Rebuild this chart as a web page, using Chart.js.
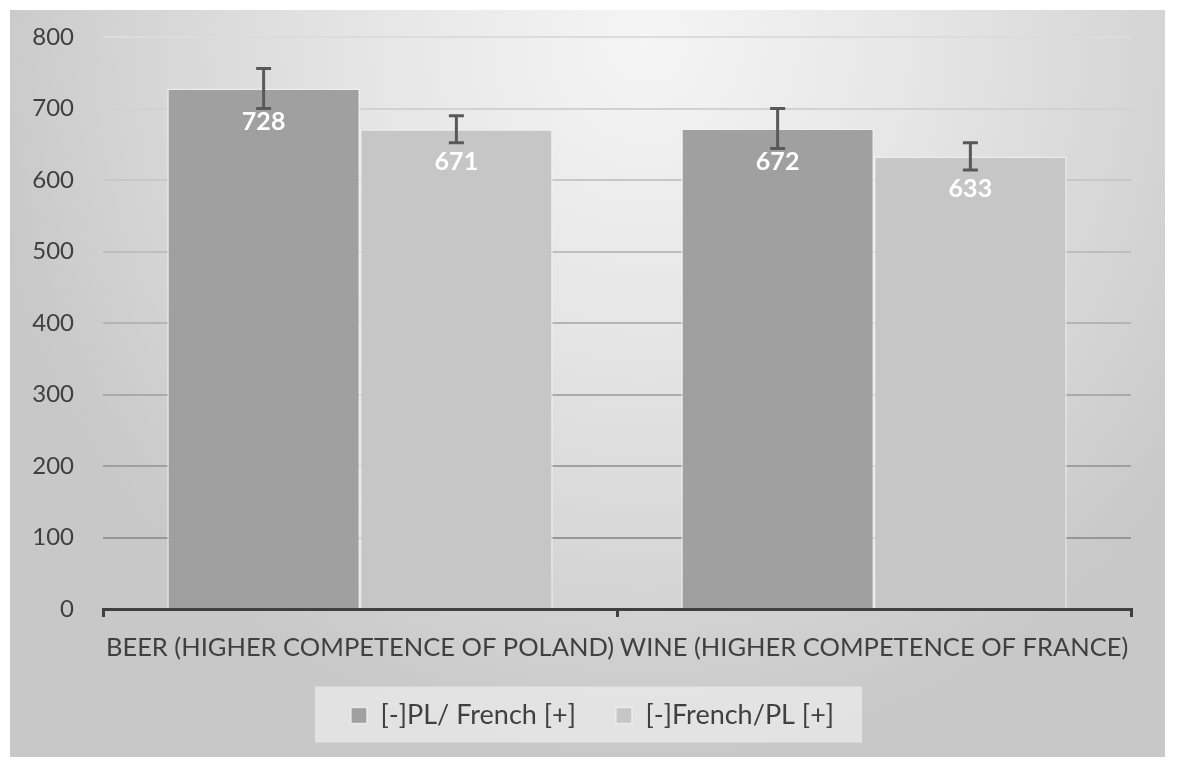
<!DOCTYPE html>
<html>
<head>
<meta charset="utf-8">
<script src="https://cdn.jsdelivr.net/npm/chart.js@4/dist/chart.umd.min.js"></script>
<style>
  html, body { margin: 0; padding: 0; background: #fff; }
  #panel {
    position: absolute; left: 10px; top: 10px; width: 1155px; height: 747px;
    background: radial-gradient(ellipse 58% 96% at 55% 4%, #f5f5f5 0%, #e6e6e6 40%, #d4d4d4 78%, #c8c8c8 100%);
  }
</style>
</head>
<body>
<div id="panel"><canvas id="chart"></canvas></div>
<script>
/* data */
const categories = ['BEER (HIGHER COMPETENCE OF POLAND)', 'WINE (HIGHER COMPETENCE OF FRANCE)'];
const seriesNames = ['[-]PL/ French [+]', '[-]French/PL [+]'];
const plFrench = [728, 672];
const frenchPl = [671, 633];
const plFrenchErr = [28, 28];
const frenchPlErr = [19, 19];
const yMax = 800;
const yStep = 100;

Chart.defaults.font.family = 'Lato, Calibri, sans-serif';
Chart.defaults.color = '#404040';

/* error bars + white value labels inside bars */
const barExtras = {
  id: 'barExtras',
  afterDatasetsDraw(chart) {
    const { ctx, scales: { y } } = chart;
    ctx.save();
    chart.data.datasets.forEach((ds, i) => {
      chart.getDatasetMeta(i).data.forEach((bar, j) => {
        const v = ds.data[j];
        const e = ds.errors[j];
        const top = y.getPixelForValue(v + e);
        const bot = y.getPixelForValue(v - e);
        ctx.strokeStyle = '#595959';
        ctx.lineWidth = 3;
        ctx.beginPath();
        ctx.moveTo(bar.x, top); ctx.lineTo(bar.x, bot);
        ctx.moveTo(bar.x - 7.5, top); ctx.lineTo(bar.x + 7.5, top);
        ctx.moveTo(bar.x - 7.5, bot); ctx.lineTo(bar.x + 7.5, bot);
        ctx.stroke();

        ctx.fillStyle = '#ffffff';
        ctx.font = 'bold 25px Lato';
        ctx.textAlign = 'center';
        ctx.textBaseline = 'middle';
        ctx.fillText(String(v), bar.x, bar.y + 33);
      });
    });
    ctx.restore();
  }
};

/* light panel behind the legend, nudged legend position */
const legendPanel = {
  id: 'legendPanel',
  afterLayout(chart) {
    chart.legend.left += 22;
    chart.legend.right += 22;
  },
  beforeDraw(chart) {
    const hb = chart.legend.legendHitBoxes;
    if (!hb || hb.length < 2) return;
    const ctx = chart.ctx;
    const cy = hb[0].top + hb[0].height / 2;
    const left = hb[0].left - 36;
    const right = hb[1].left + hb[1].width + 28;
    ctx.save();
    ctx.fillStyle = 'rgba(235,235,235,0.75)';
    ctx.fillRect(left, cy - 29, right - left, 56);
    ctx.restore();
  }
};

const ctx = document.getElementById('chart').getContext('2d');

new Chart(ctx, {
  type: 'bar',
  data: {
    labels: categories,
    datasets: [
      {
        label: seriesNames[0],
        data: plFrench,
        errors: plFrenchErr,
        backgroundColor: '#a0a0a0',
        borderColor: 'rgba(240,240,240,0.8)',
        borderWidth: 1.5
      },
      {
        label: seriesNames[1],
        data: frenchPl,
        errors: frenchPlErr,
        backgroundColor: '#c6c6c6',
        borderColor: 'rgba(240,240,240,0.8)',
        borderWidth: 1.5
      }
    ]
  },
  options: {
    responsive: true,
    maintainAspectRatio: false,
    animation: false,
    categoryPercentage: 0.75,
    barPercentage: 1.0,
    layout: { padding: { top: 27, right: 34, bottom: 18, left: 0 } },
    plugins: {
      tooltip: { enabled: false },
      legend: {
        position: 'bottom',
        labels: {
          font: { size: 27 },
          color: '#404040',
          boxWidth: 16,
          boxHeight: 16,
          padding: 40
        }
      }
    },
    scales: {
      x: {
        grid: {
          display: true,
          drawOnChartArea: false,
          drawTicks: true,
          tickLength: 8,
          color: '#404040',
          lineWidth: 3
        },
        border: { display: true, color: '#404040', width: 3 },
        ticks: { font: { size: 25.5 }, color: '#404040', padding: 15, maxRotation: 0, autoSkip: false },
        afterFit(scale) { scale.height = 53; }
      },
      y: {
        min: 0,
        max: yMax,
        border: { display: false },
        grid: {
          drawTicks: true,
          tickLength: 29,
          tickColor: 'rgba(0,0,0,0)',
          lineWidth: 2,
          color: (c) => {
            const g = Math.round(0x8c + (c.tick.value / yMax) * (0xdc - 0x8c));
            return `rgb(${g},${g},${g})`;
          }
        },
        ticks: { stepSize: yStep, font: { size: 24 }, color: '#404040', padding: 0 },
        afterFit(scale) { scale.width = 93; }
      }
    }
  },
  plugins: [barExtras, legendPanel]
});
</script>
</body>
</html>
